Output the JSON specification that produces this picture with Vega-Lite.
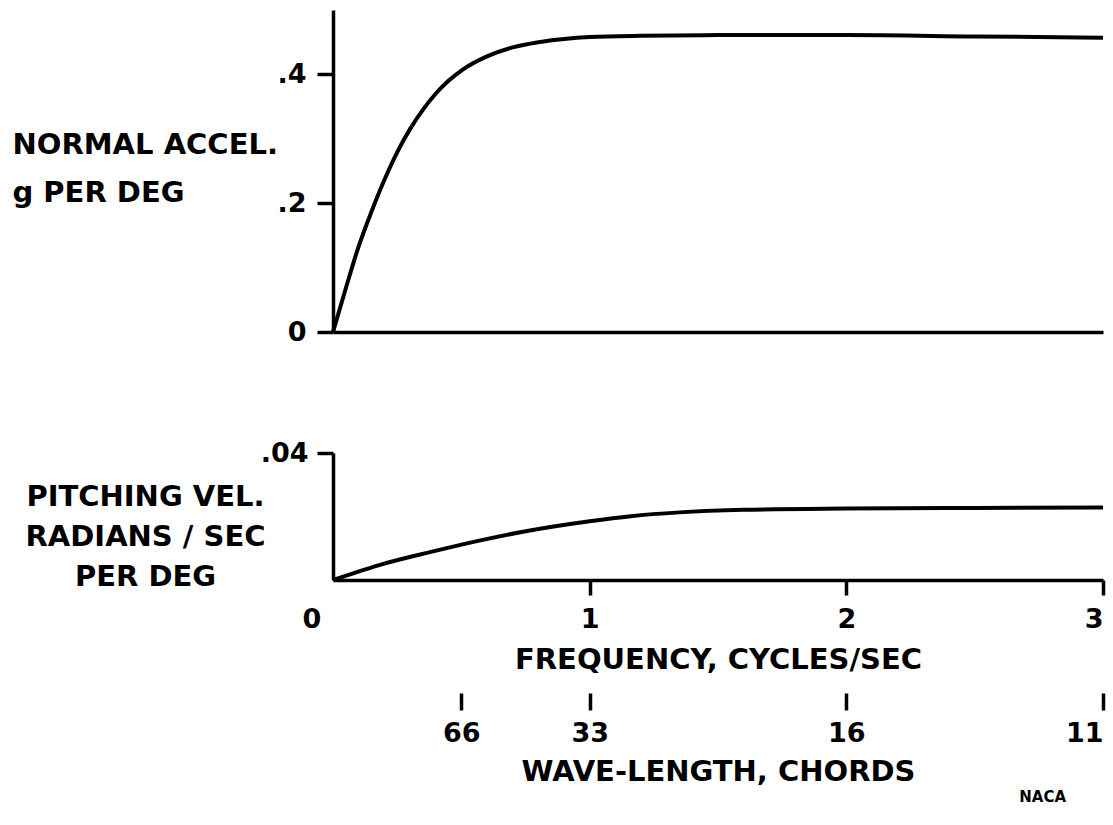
{
  "$schema": "https://vega.github.io/schema/vega-lite/v6.json",
  "padding": {"left": 12, "top": 10, "right": 5, "bottom": 5},
  "background": "white",
  "bounds": "flush",
  "spacing": 121,
  "title": {"text": "NACA", "orient": "bottom", "anchor": "end", "fontSize": 15, "font": "DejaVu Sans", "fontWeight": "bold", "color": "black", "dx": -45, "offset": 4},
  "config": {
    "view": {"stroke": null},
    "axis": {
      "grid": false,
      "domainColor": "black", "domainWidth": 3.5,
      "tickColor": "black", "tickWidth": 3.5,
      "labelColor": "black", "titleColor": "black",
      "labelFont": "DejaVu Sans", "titleFont": "DejaVu Sans",
      "labelFontWeight": "bold", "titleFontWeight": "bold",
      "labelFontSize": 27, "titleFontSize": 29
    }
  },
  "datasets": {
    "accel": [
      {"frequency": 0, "accel": 0},
      {"frequency": 0.05, "accel": 0.068},
      {"frequency": 0.1, "accel": 0.133},
      {"frequency": 0.15, "accel": 0.187},
      {"frequency": 0.2, "accel": 0.236},
      {"frequency": 0.25, "accel": 0.279},
      {"frequency": 0.3, "accel": 0.315},
      {"frequency": 0.35, "accel": 0.345},
      {"frequency": 0.4, "accel": 0.37},
      {"frequency": 0.45, "accel": 0.39},
      {"frequency": 0.5, "accel": 0.406},
      {"frequency": 0.6, "accel": 0.428},
      {"frequency": 0.7, "accel": 0.442},
      {"frequency": 0.8, "accel": 0.45},
      {"frequency": 0.9, "accel": 0.455},
      {"frequency": 1.0, "accel": 0.458},
      {"frequency": 1.2, "accel": 0.46},
      {"frequency": 1.5, "accel": 0.461},
      {"frequency": 2.0, "accel": 0.461},
      {"frequency": 2.5, "accel": 0.459},
      {"frequency": 3.0, "accel": 0.457}
    ],
    "pitch": [
      {"frequency": 0, "pitch": 0},
      {"frequency": 0.093, "pitch": 0.0025},
      {"frequency": 0.18, "pitch": 0.0047},
      {"frequency": 0.39, "pitch": 0.009},
      {"frequency": 0.57, "pitch": 0.0124},
      {"frequency": 0.74, "pitch": 0.0152},
      {"frequency": 1.0, "pitch": 0.0185},
      {"frequency": 1.16, "pitch": 0.0201},
      {"frequency": 1.35, "pitch": 0.0213},
      {"frequency": 1.6, "pitch": 0.0221},
      {"frequency": 2.0, "pitch": 0.0225},
      {"frequency": 2.5, "pitch": 0.0227},
      {"frequency": 3.0, "pitch": 0.0228}
    ],
    "chords": [
      {"frequency": 0.5, "chords": 66},
      {"frequency": 1, "chords": 33},
      {"frequency": 2, "chords": 16},
      {"frequency": 3, "chords": 11}
    ]
  },
  "vconcat": [
    {
      "width": 770,
      "height": 322,
      "data": {"name": "accel"},
      "mark": {"type": "line", "color": "black", "strokeWidth": 4, "interpolate": "monotone"},
      "encoding": {
        "x": {
          "field": "frequency", "type": "quantitative",
          "scale": {"domain": [0, 3], "nice": false, "zero": false},
          "axis": {"title": null, "labels": false, "ticks": false, "domain": true}
        },
        "y": {
          "field": "accel", "type": "quantitative",
          "scale": {"domain": [0, 0.5], "nice": false},
          "axis": {
            "values": [0, 0.2, 0.4],
            "tickSize": 16,
            "labelPadding": 11,
            "labelExpr": "replace(format(datum.value, '.1~f'), '0.', '.')",
            "title": ["NORMAL ACCEL.", "g PER DEG"],
            "titleAngle": 0,
            "titleAlign": "left",
            "titleBaseline": "top",
            "titleX": -321,
            "titleY": 120,
            "titleLineHeight": 48
          }
        }
      }
    },
    {
      "width": 770,
      "height": 127,
      "layer": [
        {
          "data": {"name": "pitch"},
          "mark": {"type": "line", "color": "black", "strokeWidth": 4, "interpolate": "monotone"},
          "encoding": {
            "x": {
              "field": "frequency", "type": "quantitative",
              "scale": {"domain": [0, 3], "nice": false, "zero": false},
              "axis": {
                "orient": "bottom",
                "values": [0, 1, 2, 3],
                "format": "d",
                "tickSize": 15,
                "tickOpacity": {"condition": {"test": "datum.value === 0", "value": 0}, "value": 1},
                "labelOffset": {"condition": {"test": "datum.value === 0", "value": -31}, "value": 0},
                "labelPadding": 11,
                "title": "FREQUENCY, CYCLES/SEC",
                "titlePadding": 13
              }
            },
            "y": {
              "field": "pitch", "type": "quantitative",
              "scale": {"domain": [0, 0.04], "nice": false},
              "axis": {
                "values": [0.04],
                "tickSize": 16,
                "labelPadding": 9,
                "labelExpr": "replace(format(datum.value, '.2~f'), '0.', '.')",
                "title": ["PITCHING VEL.", "RADIANS / SEC", "PER DEG"],
                "titleAngle": 0,
                "titleAlign": "center",
                "titleBaseline": "top",
                "titleX": -188,
                "titleY": 29,
                "titleLineHeight": 40
              }
            }
          }
        },
        {
          "data": {"name": "chords"},
          "mark": {"type": "point", "opacity": 0},
          "encoding": {
            "x": {
              "field": "frequency", "type": "quantitative",
              "scale": {"domain": [0, 3], "nice": false, "zero": false},
              "axis": {
                "orient": "bottom",
                "offset": 113,
                "domain": false,
                "values": [0.5, 1, 2, 3],
                "tickSize": 17,
                "labelPadding": 10,
                "labelExpr": "datum.value === 0.5 ? '66' : datum.value === 1 ? '33' : datum.value === 2 ? '16' : '11'",
                "title": "WAVE-LENGTH, CHORDS",
                "titlePadding": 11
              }
            }
          }
        },
        {
          "mark": {"type": "rule", "color": "black", "strokeWidth": 3.5},
          "encoding": {
            "x": {"datum": 0, "type": "quantitative", "scale": {"domain": [0, 3], "nice": false, "zero": false}, "axis": null},
            "x2": {"datum": -0.05},
            "y": {"datum": 0, "type": "quantitative"},
            "y2": {"datum": -0.0047}
          }
        }
      ],
      "resolve": {"axis": {"x": "independent"}}
    }
  ]
}
